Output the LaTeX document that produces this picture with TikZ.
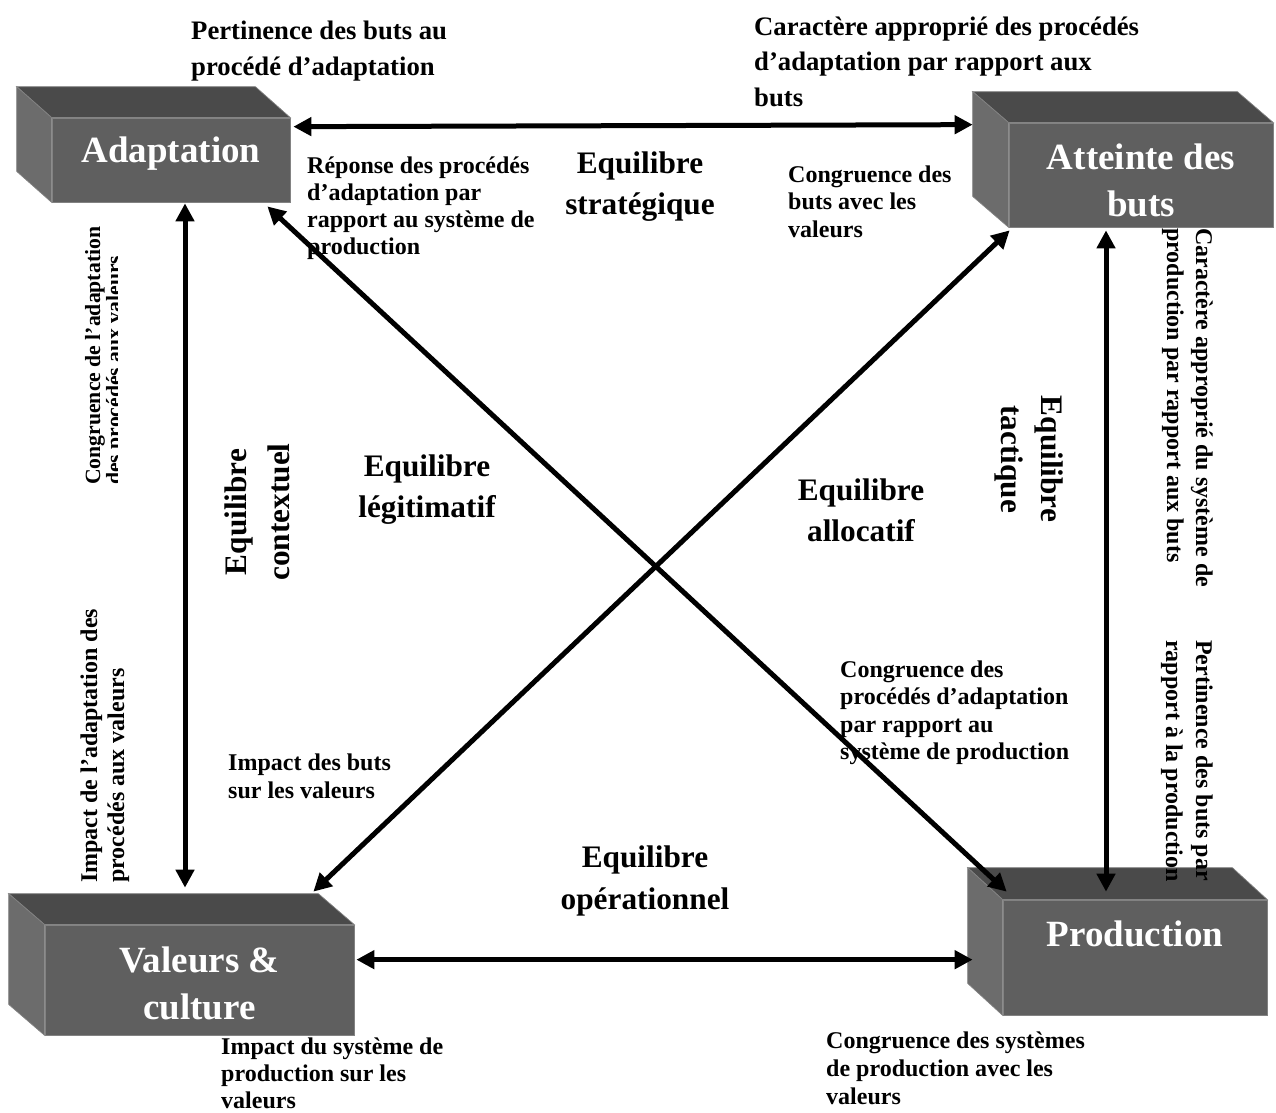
\documentclass[tikz,border=0pt]{standalone}
\usepackage{fontspec}
\setmainfont{Liberation Serif}
\usetikzlibrary{arrows.meta,calc}

\definecolor{boxtop}{RGB}{74,74,74}
\definecolor{boxfront}{RGB}{95,95,95}
\definecolor{boxside}{RGB}{108,108,108}
\definecolor{boxedge}{RGB}{130,130,130}

% side and top faces of a slab whose front face is node #1, receding by (#2,#3)
\newcommand\slabfaces[3]{%
  \fill[boxtop,draw=boxedge,line width=0.7pt]
    (#1.north west) -- ++(-#2,-#3) -- ($(#1.north east)+(-#2,-#3)$) -- (#1.north east) -- cycle;
  \fill[boxside,draw=boxedge,line width=0.7pt]
    (#1.north west) -- ++(-#2,-#3) -- ($(#1.south west)+(-#2,-#3)$) -- (#1.south west) -- cycle;
}

% multi-line nodes below are placed by the baseline of their last line
\tikzset{
  slab/.style={draw=boxedge,line width=0.7pt,fill=boxfront,inner sep=0pt},
  slabtext/.style={inner sep=0pt,align=center,anchor=base,text=white,
    font=\bfseries\fontsize{37}{47}\selectfont},
  lbl/.style={inner sep=0pt,align=left,anchor=base west,
    font=\bfseries\fontsize{24}{27.5}\selectfont},
  biglbl/.style={inner sep=0pt,align=left,anchor=base west,
    font=\bfseries\fontsize{26.7}{36}\selectfont},
  eq/.style={inner sep=0pt,align=center,anchor=base,
    font=\bfseries\fontsize{31.3}{41}\selectfont},
  arr/.style={line width=5pt,
    {Triangle[length=18pt,width=18pt]}-{Triangle[length=18pt,width=18pt]}},
}

\begin{document}
\begin{tikzpicture}[x=1pt,y=-1pt]
\useasboundingbox (0,0) rectangle (1276,1112);
\fill[white] (0,0) rectangle (1276,1112);

% the four slabs
\node[slab,minimum width=238pt,minimum height=84pt] (adapt) at (171,160) {};
\slabfaces{adapt}{35}{31}
\node[slab,minimum width=264pt,minimum height=104pt] (att) at (1141,175) {};
\slabfaces{att}{36}{31}
\node[slab,minimum width=309pt,minimum height=110pt] (val) at (199.5,980) {};
\slabfaces{val}{36}{31}
\node[slab,minimum width=264pt,minimum height=115pt] (prod) at (1135,957.5) {};
\slabfaces{prod}{35}{32}

\node[slabtext] (adaptT) at ([yshift=-45pt]adapt.north) {Adaptation};
\node[slabtext] (attT) at ([yshift=-94pt]att.north) {Atteinte des\\buts};
\node[slabtext] (valT) at ([yshift=-95pt]val.north) {Valeurs \&\\culture};
\node[slabtext] (prodT) at ([yshift=-47pt]prod.north) {Production};

% relation labels
\node[biglbl] (l1) at (191,75) {Pertinence des buts au\\procédé d’adaptation};
\node[biglbl,font=\bfseries\fontsize{26.7}{35.5}\selectfont] (l2) at (754,106)
  {Caractère approprié des procédés\\d’adaptation par rapport aux\\buts};
\node[lbl,font=\bfseries\fontsize{24}{27}\selectfont] (l3) at (307,254)
  {Réponse des procédés\\d’adaptation par\\rapport au système de\\production};
\node[lbl] (l4) at (788,237) {Congruence des\\buts avec les\\valeurs};
\node[lbl] (l5) at (840,759.5)
  {Congruence des\\procédés d’adaptation\\par rapport au\\système de production};
\node[lbl,font=\bfseries\fontsize{24}{28}\selectfont] (l6) at (228,798)
  {Impact des buts\\sur les valeurs};
\node[lbl,font=\bfseries\fontsize{24}{27}\selectfont] (l7) at (221,1108)
  {Impact du système de\\production sur les\\valeurs};
\node[lbl,font=\bfseries\fontsize{24}{28}\selectfont] (l8) at (826,1104)
  {Congruence des systèmes\\de production avec les\\valeurs};

% vertical labels
\begin{scope}
  \clip (0,0) rectangle (117,1112);
  \node[lbl,rotate=90,font=\bfseries\fontsize{21.7}{16}\selectfont] (r1) at (121,485)
    {Congruence de l’adaptation\\des procédés aux valeurs};
\end{scope}
\node[lbl,rotate=90,font=\bfseries\fontsize{24}{27}\selectfont] (r2) at (124,883)
  {Impact de l’adaptation des\\procédés aux valeurs};
\node[lbl,rotate=-90,font=\bfseries\fontsize{24}{29}\selectfont] (r3) at (1167,228)
  {Caractère approprié du système de\\production par rapport aux buts};
\node[lbl,rotate=-90,font=\bfseries\fontsize{24}{30}\selectfont] (r4) at (1166,640)
  {Pertinence des buts par\\rapport à la production};

% the six equilibria
\node[eq] (e1) at (640,214) {Equilibre\\stratégique};
\node[eq] (e2) at (427,517) {Equilibre\\légitimatif};
\node[eq] (e3) at (861,541) {Equilibre\\allocatif};
\node[eq,font=\bfseries\fontsize{31.3}{42}\selectfont] (e4) at (645,909) {Equilibre\\opérationnel};
\node[eq,rotate=90,font=\bfseries\fontsize{31.3}{43}\selectfont] (e5) at (289,512) {Equilibre\\contextuel};
\node[eq,rotate=-90,font=\bfseries\fontsize{31.3}{40}\selectfont] (e6) at (1001,459) {Equilibre\\tactique};

% connectors
\draw[arr] ([xshift=3pt,yshift=-9pt]adapt.north east) -- ([xshift=-36pt,yshift=-2pt]att.north west);
\draw[arr] ([xshift=2pt,yshift=-35pt]val.north east) -- ([xshift=-30pt,yshift=-60pt]prod.north west);
\draw[arr] ([xshift=14pt,yshift=-1pt]adapt.south) -- ([xshift=-14.5pt,yshift=37pt]val.north);
\draw[arr] ([xshift=-35pt,yshift=-3pt]att.south) -- ([xshift=-29pt,yshift=8pt]prod.north);
\draw[arr] ([xshift=-23pt,yshift=-4pt]adapt.south east) -- ([xshift=4pt,yshift=8pt]prod.north west);
\draw[arr] ([xshift=1pt,yshift=-3pt]att.south west) -- ([xshift=-41pt,yshift=33pt]val.north east);
\end{tikzpicture}
\end{document}
